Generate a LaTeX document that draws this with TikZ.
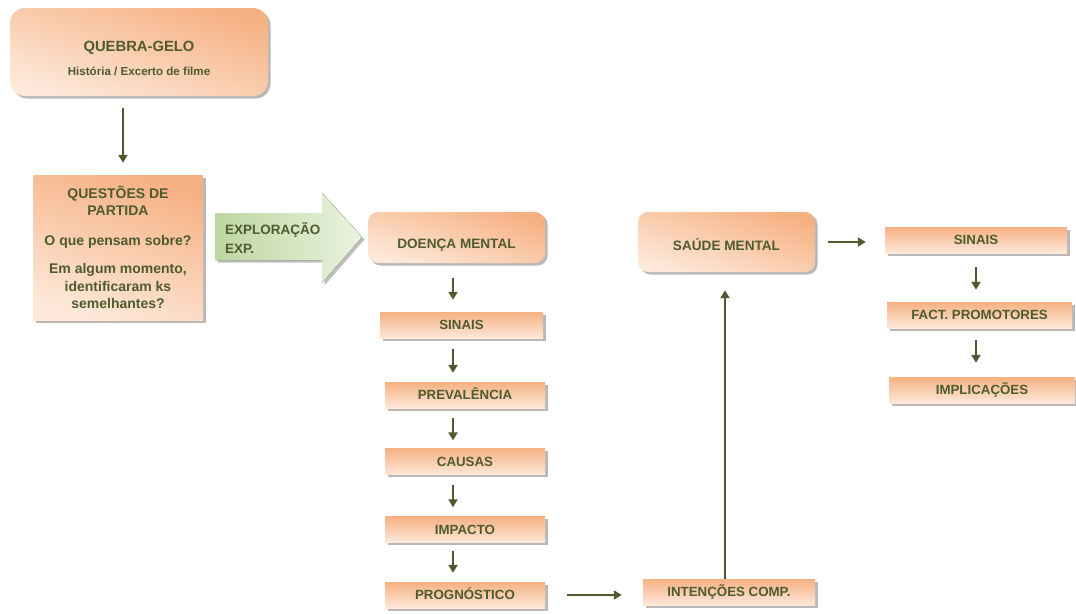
\documentclass[tikz,border=0pt]{standalone}
\usepackage{fontspec}
\setmainfont{Liberation Sans}
\usetikzlibrary{arrows.meta,shadows,calc}
\definecolor{olivetxt}{HTML}{4E5B2F}
\definecolor{ordark}{HTML}{F6B183}
\definecolor{orlight}{HTML}{FDE8D9}
\definecolor{grdark}{HTML}{BDD6A0}
\definecolor{grlight}{HTML}{EAF3DF}
\tikzset{
  box/.style={draw=none, top color=ordark, bottom color=orlight, shading angle=-18,
    text=olivetxt, align=center, inner sep=0pt,
    drop shadow={shadow xshift=2.5pt, shadow yshift=-2.5pt, fill=black, opacity=0.28}},
  bigbox/.style={box, rounded corners=12pt, font=\bfseries\fontsize{14}{17}\selectfont},
  sqbox/.style={box, font=\bfseries\fontsize{14}{17.5}\selectfont},
  smallbox/.style={box, shading angle=0, minimum height=26pt, text height=9.6pt, text depth=0pt,
    font=\bfseries\fontsize{13.3}{15}\selectfont},
  labtext/.style={text=olivetxt, align=center, inner sep=0pt},
  arr/.style={draw=olivetxt, line width=2pt, -{Triangle[length=8pt,width=9pt]}},
}
\begin{document}
\begin{tikzpicture}[x=1pt,y=-1pt]
\useasboundingbox (0,0) rectangle (1076,613);
% top box
\node[bigbox, rounded corners=15pt, minimum width=258pt, minimum height=88pt,
  label={[labtext, yshift=-6pt, font=\bfseries]center:{\fontsize{14.8}{17}\selectfont QUEBRA-GELO\\[12pt]\fontsize{11.6}{14}\selectfont História / Excerto de filme}}] (qg) at (139,52) {};
% questions box
\node[sqbox, minimum width=170pt, minimum height=145pt] (qp) at (118,247.5)
  {QUESTÕES DE\\PARTIDA\\[12pt]O que pensam sobre?\\[11pt]Em algum momento,\\identificaram ks\\semelhantes?};
% green arrow
\fill[left color=grdark, right color=grlight,
  drop shadow={shadow xshift=2.5pt, shadow yshift=-2.5pt, fill=black, opacity=0.25}]
  (215,213) -- (322,213) -- (322,193) -- (362,237) -- (322,283) -- (322,260) -- (215,260) -- cycle;
\node[anchor=west, align=left, text=olivetxt, inner sep=0pt,
  font=\bfseries\fontsize{13.5}{19}\selectfont] (exp) at (225,237.5) {EXPLORAÇÃO\\EXP.};
% main boxes
\node[bigbox, rounded corners=10pt, minimum width=177pt, minimum height=51pt,
  text height=22pt, text depth=0pt, font=\bfseries\fontsize{13.6}{16}\selectfont] (dm) at (456.5,237.5) {DOENÇA MENTAL};
\node[bigbox, rounded corners=10pt, minimum width=177pt, minimum height=60pt,
  text height=16.5pt, text depth=0pt, font=\bfseries\fontsize{13.6}{16}\selectfont] (sm) at (726.5,242) {SAÚDE MENTAL};
% left column
\node[smallbox, minimum width=163pt] (s1) at (461.5,325) {SINAIS};
\node[smallbox, minimum width=160pt] (pv) at (465,395) {PREVALÊNCIA};
\node[smallbox, minimum width=160pt] (ca) at (465,461.5) {CAUSAS};
\node[smallbox, minimum width=160pt] (im) at (465,529.5) {IMPACTO};
\node[smallbox, minimum width=160pt] (pg) at (465,595) {PROGNÓSTICO};
\node[smallbox, minimum width=172pt] (ic) at (729,592) {INTENÇÕES COMP.};
% right column
\node[smallbox, minimum width=182pt] (s2) at (976,240) {SINAIS};
\node[smallbox, minimum width=185pt] (fp) at (979.5,315) {FACT. PROMOTORES};
\node[smallbox, minimum width=186pt] (il) at (982,390) {IMPLICAÇÕES};
% guides
\coordinate (xa) at (123,0);
\coordinate (xb) at (453,0);
\coordinate (xc) at (725,0);
\coordinate (xd) at (976,0);
\coordinate (ya) at (0,595);
% connectors
\draw[arr, shorten <=12pt, shorten >=12pt] (qg.south -| xa) -- (qp.north -| xa);
\draw[arr, shorten <=15pt, shorten >=12pt] (dm.south -| xb) -- (s1.north -| xb);
\draw[arr, shorten <=11pt, shorten >=9pt] (s1.south -| xb) -- (pv.north -| xb);
\draw[arr, shorten <=10pt, shorten >=8pt] (pv.south -| xb) -- (ca.north -| xb);
\draw[arr, shorten <=10pt, shorten >=9pt] (ca.south -| xb) -- (im.north -| xb);
\draw[arr, shorten <=8pt, shorten >=9pt] (im.south -| xb) -- (pg.north -| xb);
\draw[arr, shorten <=22pt, shorten >=21pt] (pg.east |- ya) -- (ic.west |- ya);
\draw[arr, shorten <=0pt, shorten >=18pt] (ic.north -| xc) -- (sm.south -| xc);
\draw[arr, shorten <=13pt, shorten >=19pt] (sm.east) -- (s2.west |- sm.east);
\draw[arr, shorten <=14pt, shorten >=12pt] (s2.south -| xd) -- (fp.north -| xd);
\draw[arr, shorten <=12pt, shorten >=14pt] (fp.south -| xd) -- (il.north -| xd);
\end{tikzpicture}
\end{document}
